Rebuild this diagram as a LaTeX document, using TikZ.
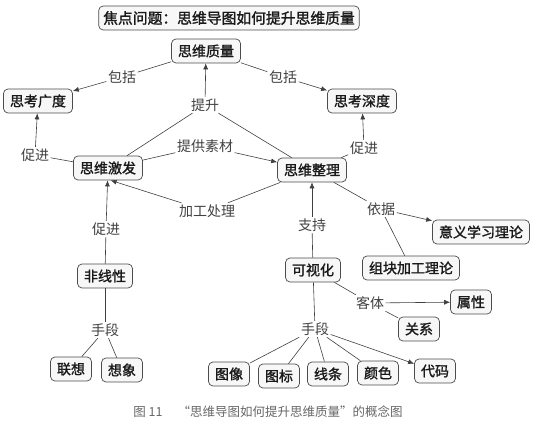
\documentclass[tikz,border=0pt]{standalone}
\usepackage{fontspec}
\setmainfont{Noto Sans CJK SC}
\newfontfamily\boxfont{Noto Sans CJK SC}[FakeBold=1.4]
\usetikzlibrary{arrows.meta}

\begin{document}
\begin{tikzpicture}[x=1pt, y=-1pt,
  cbox/.style={draw=black!70, fill=black!3, rounded corners=4.5pt, line width=0.7pt, inner xsep=6.5pt, inner ysep=0pt, minimum height=24pt, font=\fontsize{14}{16}\boxfont, text=black!90},
  lbl/.style={inner sep=1.5pt, font=\fontsize{14}{16}\selectfont, text=black!75},
  link/.style={draw=black!75, line width=0.6pt},
  arr/.style={link, -{Latex[length=6pt,width=5pt]}}
]
  \useasboundingbox (0,0) rectangle (538,435);

  % concepts
  \node[cbox, inner xsep=4.5pt, font=\fontsize{14.8}{16}\boxfont] (focus) at (229,18) {焦点问题：思维导图如何提升思维质量};
  \node[cbox] (zhiliang) at (206,51) {思维质量};
  \node[cbox] (guangdu) at (38,101) {思考广度};
  \node[cbox] (shendu) at (362,101) {思考深度};
  \node[cbox] (jifa) at (108,168) {思维激发};
  \node[cbox] (zhengli) at (312,170) {思维整理};
  \node[cbox] (feixian) at (105,276) {非线性};
  \node[cbox] (lianxiang) at (71,369) {联想};
  \node[cbox] (xiangxiang) at (122,370) {想象};
  \node[cbox] (keshi) at (313,270) {可视化};
  \node[cbox] (zukuai) at (411,268) {组块加工理论};
  \node[cbox] (yiyi) at (481,232) {意义学习理论};
  \node[cbox] (shuxing) at (471,302) {属性};
  \node[cbox] (guanxi) at (419,329) {关系};
  \node[cbox] (tuxiang) at (229,374) {图像};
  \node[cbox] (tubiao) at (279,376) {图标};
  \node[cbox] (xiantiao) at (328,374) {线条};
  \node[cbox] (yanse) at (378,373) {颜色};
  \node[cbox] (daima) at (435,371) {代码};

  % linking words
  \node[lbl] (baokuoL) at (122,77) {包括};
  \node[lbl] (baokuoR) at (283,77) {包括};
  \node[lbl] (tisheng) at (205,105) {提升};
  \node[lbl] (sucai) at (205,146) {提供素材};
  \node[lbl] (cujinL) at (35,155) {促进};
  \node[lbl] (cujinR) at (364,148) {促进};
  \node[lbl] (jiagong) at (207,211) {加工处理};
  \node[lbl] (cujinB) at (106,229) {促进};
  \node[lbl] (shouduanL) at (105,330) {手段};
  \node[lbl] (zhichi) at (312,225) {支持};
  \node[lbl] (yiju) at (381,209) {依据};
  \node[lbl] (keti) at (370,303) {客体};
  \node[lbl] (shouduanR) at (315,329) {手段};

  % links
  \draw[link] (zhiliang) -- (baokuoL);
  \draw[arr] (baokuoL) -- (guangdu);
  \draw[link] (zhiliang) -- (baokuoR);
  \draw[arr] (baokuoR) -- (shendu);
  \draw[link] (jifa) -- (tisheng);
  \draw[link] (zhengli) -- (tisheng);
  \draw[arr] (tisheng) -- (zhiliang);
  \draw[link] (jifa) -- (sucai);
  \draw[arr] (sucai) -- (zhengli);
  \draw[link] (jifa) -- (cujinL);
  \draw[arr] (cujinL) -- (guangdu);
  \draw[link] (zhengli) -- (cujinR);
  \draw[arr] (cujinR) -- (shendu);
  \draw[link] (zhengli) -- (jiagong);
  \draw[arr] (jiagong) -- (jifa.-78);
  \draw[link] (feixian) -- (cujinB);
  \draw[arr] (cujinB) -- (jifa);
  \draw[link] (feixian) -- (shouduanL);
  \draw[link] (shouduanL) -- (lianxiang);
  \draw[link] (shouduanL) -- (xiangxiang);
  \draw[link] (keshi) -- (zhichi);
  \draw[arr] (zhichi) -- (zhengli);
  \draw[link] (zhengli) -- (yiju);
  \draw[arr] (yiju) -- (yiyi);
  \draw[link] (yiju) -- (zukuai);
  \draw[link] (keshi) -- (keti);
  \draw[arr] (keti) -- (shuxing);
  \draw[link] (keti) -- (guanxi);
  \draw[link] (keshi) -- (shouduanR);
  \draw[link] (shouduanR) -- (tuxiang);
  \draw[link] (shouduanR) -- (tubiao);
  \draw[link] (shouduanR) -- (xiantiao);
  \draw[link] (shouduanR) -- (yanse);
  \draw[arr] (shouduanR) -- (daima);

  \node[font=\fontsize{12.5}{14}\selectfont, text=black!60] (figcap) at (268,412) {图 11\hspace{15pt}“思维导图如何提升思维质量”的概念图};
\end{tikzpicture}
\end{document}
